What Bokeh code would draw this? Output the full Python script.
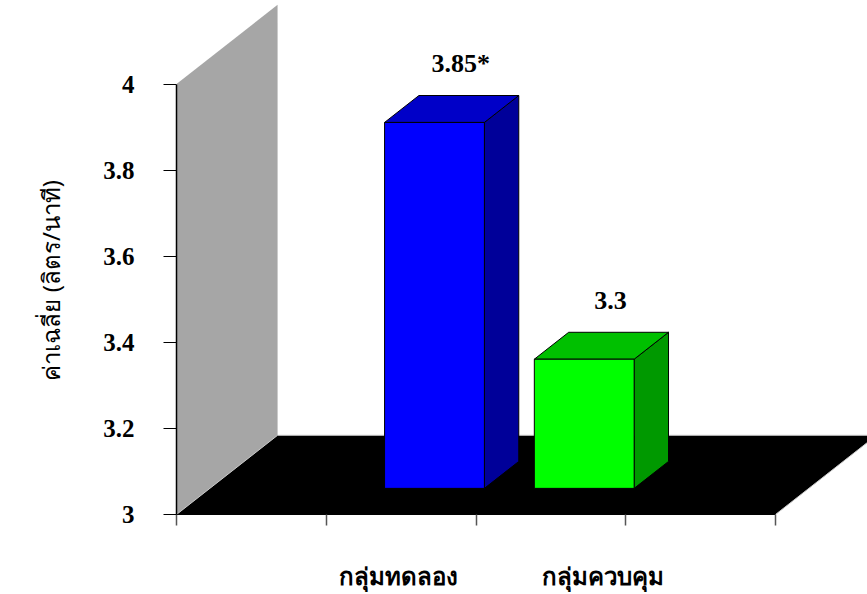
from bokeh.plotting import figure
from bokeh.models import Range1d, FixedTicker, LinearAxis, CustomJSTickFormatter, Title
from bokeh.core.properties import value
from bokeh.embed import file_html
from bokeh.resources import INLINE

# ---------------- data ----------------
categories = ["กลุ่มทดลอง", "กลุ่มควบคุม"]
means = [3.85, 3.3]
value_labels = ["3.85*", "3.3"]
slot_centers = [1.5, 2.5]          # category positions on the 4-slot floor
label_shift = [-0.02, 0.35]        # category label placement relative to slot centre
y_ticks = [3, 3.2, 3.4, 3.6, 3.8, 4]
y_tick_labels = ["3", "3.2", "3.4", "3.6", "3.8", "4"]
x_slot_ticks = [0, 1, 2, 3, 4]
y_title = "ค่าเฉลี่ย (ลิตร/นาที)"

front_colors = ["#0000ff", "#00ff00"]
top_colors = ["#0000c8", "#00c000"]
side_colors = ["#000099", "#009900"]

# ---------------- 3-D style constants ----------------
Y0 = y_ticks[0]
YMAX = y_ticks[-1]
NSLOT = x_slot_ticks[-1]
DX, DY = 0.675, 0.184       # full floor depth in data units
F0, F1 = 0.33, 0.67         # bar depth placement (fraction of floor depth)
BAR_W = 2.0 / 3.0

p = figure(width=867, height=594,
           x_range=Range1d(0, 691 / 149.75), y_range=Range1d(3, 3 + 517 / 433),
           output_backend="svg", toolbar_location=None,
           x_axis_type=None, y_axis_type=None,
           min_border_left=176, min_border_right=0, min_border_top=0, min_border_bottom=77)
p.outline_line_color = None
p.background_fill_color = "white"
p.border_fill_color = "white"

# side wall
p.patch([0, 0, DX, DX], [Y0, YMAX, YMAX + DY, Y0 + DY],
        fill_color="#a6a6a6", line_color=None)
# floor
p.patch([0, NSLOT, NSLOT + DX, DX], [Y0, Y0, Y0 + DY, Y0 + DY],
        fill_color="black", line_color="#c8c8c8", line_width=1)

# bars
fx, fy, tx, ty, sx, sy = [], [], [], [], [], []
ddx, ddy = (F1 - F0) * DX, (F1 - F0) * DY
for c, v in zip(slot_centers, means):
    x0 = c - BAR_W / 2 + F0 * DX
    x1 = c + BAR_W / 2 + F0 * DX
    yb = Y0 + F0 * DY
    yt = v + F0 * DY
    fx.append([x0, x1, x1, x0]); fy.append([yb, yb, yt, yt])
    tx.append([x0, x1, x1 + ddx, x0 + ddx]); ty.append([yt, yt, yt + ddy, yt + ddy])
    sx.append([x1, x1 + ddx, x1 + ddx, x1]); sy.append([yb, yb + ddy, yt + ddy, yt])

p.patches(sx, sy, fill_color=side_colors, line_color="black", line_width=1)
p.patches(tx, ty, fill_color=top_colors, line_color="black", line_width=1)
p.patches(fx, fy, fill_color=front_colors, line_color="black", line_width=1)

# value labels
lab_x = [c + F1 * DX for c in slot_centers]
lab_y = [v + F1 * DY for v in means]
p.text(lab_x, lab_y, text=value_labels, text_align="center", text_baseline="alphabetic",
       x_offset=-8, y_offset=-32, text_font=value("Liberation Serif"),
       text_font_style="bold", text_font_size="26px", text_color="black")

FMT_CODE = """
let k = -1;
for (let j = 0; j < tvals.length; j++) { if (Math.abs(tvals[j] - tick) < 1e-9) { k = j; } }
return k >= 0 ? tlabels[k] : '';
"""

# y axis
yfmt = CustomJSTickFormatter(args=dict(tvals=y_ticks, tlabels=y_tick_labels), code=FMT_CODE)
yaxis = LinearAxis(ticker=FixedTicker(ticks=y_ticks, minor_ticks=[]), formatter=yfmt,
                   bounds=(Y0, YMAX))
yaxis.axis_line_color = "black"
yaxis.axis_line_width = 1.5
yaxis.major_tick_out = 13
yaxis.major_tick_in = 0
yaxis.major_tick_line_color = "black"
yaxis.minor_tick_line_color = None
yaxis.major_label_standoff = 29
yaxis.major_label_text_font = "Liberation Serif"
yaxis.major_label_text_font_style = "bold"
yaxis.major_label_text_font_size = "25px"
yaxis.major_label_text_color = "black"
p.add_layout(yaxis, "left")

# y title as a side title, starting ~134 px above the frame bottom
ytitle = Title(text=y_title, align="left", offset=134, vertical_align="top",
               standoff=64, text_font="Noto Sans", text_font_style="normal",
               text_font_size="24px", text_color="black")
p.add_layout(ytitle, "left")

# x axis
label_x = [c + s for c, s in zip(slot_centers, label_shift)]
xfmt = CustomJSTickFormatter(args=dict(tvals=label_x, tlabels=categories), code=FMT_CODE)
xaxis = LinearAxis(ticker=FixedTicker(ticks=label_x, minor_ticks=x_slot_ticks), formatter=xfmt,
                   bounds=(0, NSLOT))
xaxis.axis_line_color = "black"
xaxis.major_tick_out = 0
xaxis.major_tick_in = 0
xaxis.major_tick_line_color = None
xaxis.minor_tick_out = 11
xaxis.minor_tick_in = 0
xaxis.minor_tick_line_color = "#555555"
xaxis.minor_tick_line_width = 1.5
xaxis.major_label_standoff = 33
xaxis.major_label_text_font = "Noto Sans"
xaxis.major_label_text_font_style = "bold"
xaxis.major_label_text_font_size = "24px"
xaxis.major_label_text_color = "black"
p.add_layout(xaxis, "below")

open("out.html", "w").write(file_html(p, INLINE))
